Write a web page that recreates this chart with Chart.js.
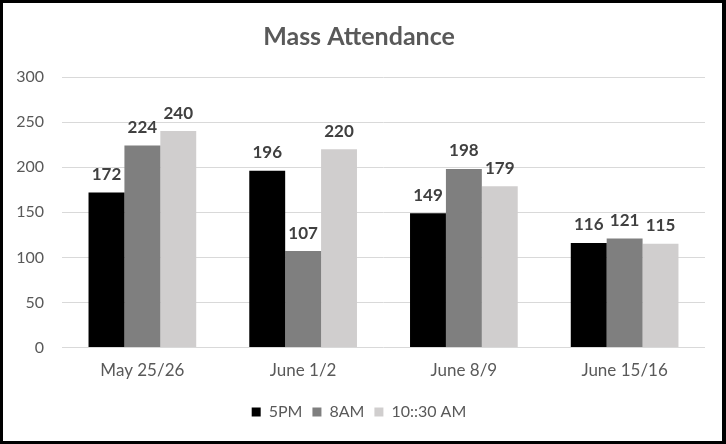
<!DOCTYPE html>
<html>
<head>
<meta charset="utf-8">
<script src="https://cdn.jsdelivr.net/npm/chart.js@4"></script>
<style>
  html, body { margin: 0; padding: 0; background: #fff; }
  #wrap { width: 726px; height: 444px; box-sizing: border-box; border: 3px solid #000; border-right-width: 4px; }
  canvas { display: block; }
</style>
</head>
<body>
<div id="wrap"><canvas id="chart" width="719" height="438"></canvas></div>
<script>
const categories = ["May 25/26", "June 1/2", "June 8/9", "June 15/16"];
const seriesNames = ["5PM", "8AM", "10::30 AM"];
const pm5 = [172, 196, 149, 116];
const am8 = [224, 107, 198, 121];
const am1030 = [240, 220, 179, 115];
const yTicks = [0, 50, 100, 150, 200, 250, 300];
const colors = ["#000000", "#7f7f7f", "#d0cece"];

const FONT = "Lato, 'Open Sans', sans-serif";

// draws the value above each bar
const barLabels = {
    id: "barLabels",
    afterDatasetsDraw(chart) {
        const ctx = chart.ctx;
        ctx.save();
        ctx.font = "bold 17px " + FONT;
        ctx.fillStyle = "#404040";
        ctx.textAlign = "center";
        ctx.textBaseline = "middle";
        chart.data.datasets.forEach((ds, i) => {
            chart.getDatasetMeta(i).data.forEach((bar, j) => {
                ctx.fillText(String(ds.data[j]), bar.x, bar.y - 18);
            });
        });
        ctx.restore();
    }
};

new Chart(document.getElementById("chart"), {
    type: "bar",
    data: {
        labels: categories,
        datasets: [pm5, am8, am1030].map((d, i) => ({
            label: seriesNames[i],
            data: d,
            backgroundColor: colors[i],
            borderWidth: 0
        }))
    },
    options: {
        responsive: false,
        animation: false,
        layout: { padding: { left: 10, right: 17, top: 0, bottom: 11 } },
        datasets: { bar: { categoryPercentage: 0.67, barPercentage: 1 } },
        plugins: {
            title: {
                display: true,
                text: "Mass Attendance",
                color: "#595959",
                font: { family: FONT, size: 25, weight: "bold" },
                padding: { top: 19, bottom: 25 }
            },
            legend: {
                position: "bottom",
                labels: {
                    boxWidth: 9,
                    boxHeight: 9,
                    padding: 10,
                    color: "#595959",
                    font: { family: FONT, size: 16 }
                }
            },
            tooltip: { enabled: false }
        },
        scales: {
            x: {
                grid: { display: false, drawTicks: false },
                border: { display: false },
                ticks: { color: "#595959", font: { family: FONT, size: 17 }, padding: 13 }
            },
            y: {
                min: 0,
                max: 300,
                afterBuildTicks: s => { s.ticks = yTicks.map(v => ({ value: v })); },
                afterFit: s => { s.width = 49; },
                grid: { color: "#d9d9d9", drawTicks: false },
                border: { display: false },
                ticks: { color: "#595959", font: { family: FONT, size: 16 }, padding: 18 }
            }
        }
    },
    plugins: [barLabels]
});
</script>
</body>
</html>
